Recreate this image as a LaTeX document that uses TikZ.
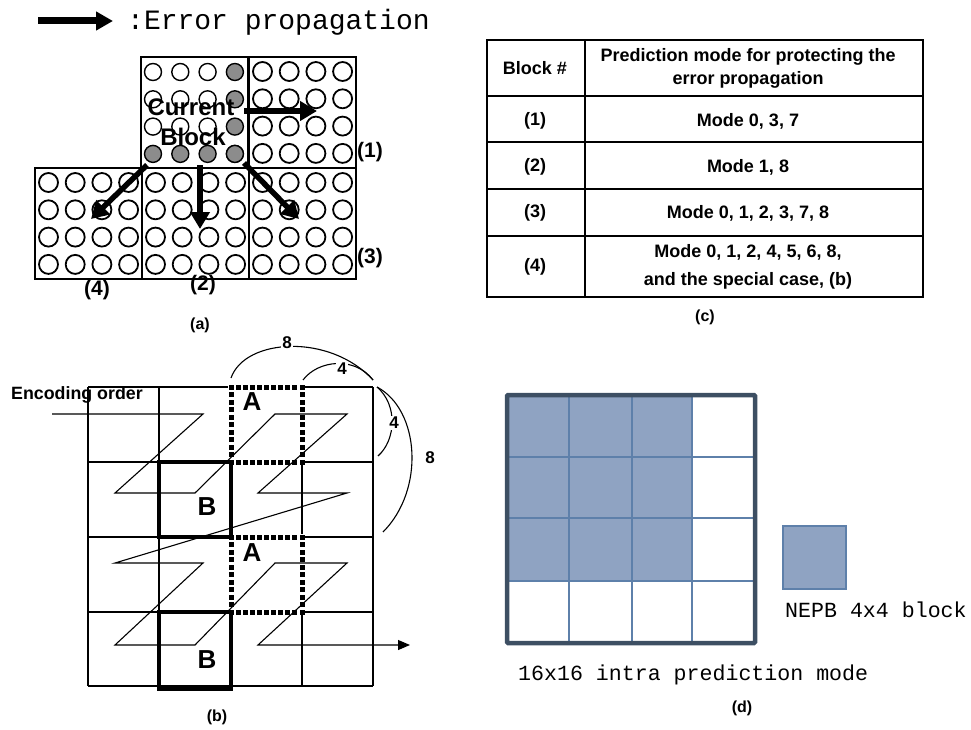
\documentclass[tikz,border=0pt]{standalone}
\usepackage{fontspec}
\setmainfont{Liberation Sans}
\setmonofont{Liberation Mono}
\usetikzlibrary{positioning, calc, arrows.meta}

\definecolor{nepbfill}{HTML}{8FA3C2}
\definecolor{nepbline}{HTML}{5E80AA}
\definecolor{mbborder}{HTML}{3D4F63}

\tikzset{
  pix/.style={draw, line width=1.8pt, fill=white},
  hotpix/.style={draw, line width=1.4pt, fill=black!45},
  errarrow/.style={line width=5.5pt, -{Triangle[length=17pt,width=19pt]}},
  blocklab/.style={font=\bfseries\fontsize{21}{24}\selectfont},
  subcap/.style={font=\bfseries\fontsize{16}{18}\selectfont},
  tabtext/.style={font=\bfseries\fontsize{18}{23}\selectfont, align=center},
  monotext/.style={font=\ttfamily\fontsize{21.6}{24}\selectfont, anchor=base west, inner sep=0pt},
  bbox/.style={line width=3.6pt},
  gridline/.style={line width=1.2pt},
  arclab/.style={font=\bfseries\fontsize{17}{19}\selectfont, fill=white, inner sep=1pt}
}

% heavy square dashes from (#1,#2) to (#3,#4), horizontal or vertical
\newcommand{\sqdash}[4]{%
  \fill[white] (#1-3,#2-3) rectangle (#3+3,#4+3);
  \foreach \t in {0,...,10}
    \fill ($(#1,#2)!\t/10!(#3,#4)$) ++(-2.5,-2.5) rectangle ++(5,5);
}

\begin{document}
\begin{tikzpicture}[x=1pt, y=-1pt, >=Stealth]
    \useasboundingbox (0,0) rectangle (971,730);

    % Legend
    \coordinate (legS) at (38,21);
    \coordinate (legE) at (113,21);
    \draw[line width=7pt, -{Triangle[length=17pt,width=18pt]}] (legS) -- (legE);
    \node[monotext, font=\ttfamily\fontsize{28}{30}\selectfont] (legtxt) at (127,30) {:Error propagation};

    % (a) Blocks
    \foreach \bx/\by in {141/57, 249/57, 35/168, 142/168, 249/168}
        \draw[line width=1.4pt] (\bx,\by) rectangle ++(107,111);

    % (a) Neighbour pixels
    \foreach \bx/\by in {249/57, 35/168, 142/168, 249/168}
        \foreach \i in {0,...,3}
            \foreach \j in {0,...,3}
                \draw[pix] (\bx+13.5+26.7*\i, \by+14.5+27.3*\j) circle (9.5pt);

    % (a) Current block pixels
    \foreach \i in {0,1,2}
        \foreach \j in {0,1,2}
            \draw[pix, line width=1.4pt] (153+27.3*\i, 72+27.3*\j) circle (8.5pt);
    \foreach \k in {0,...,3} {
        \draw[hotpix] (153+27.3*3, 72+27.3*\k) circle (8.5pt);
        \draw[hotpix] (153+27.3*\k, 72+27.3*3) circle (8.5pt);
    }
    \node[font=\bfseries\fontsize{24}{26}\selectfont] (curtxt) at (191,107) {Current};
    \node[font=\bfseries\fontsize{24}{26}\selectfont] (blktxt) at (193,137) {Block};

    % (a) Error propagation
    \coordinate (curE) at (244,111);
    \coordinate (oneT) at (317,111);
    \coordinate (curS) at (200,165);
    \coordinate (twoT) at (200,229);
    \coordinate (curSW) at (147,165);
    \coordinate (fourT) at (91,219);
    \coordinate (curSE) at (244,163);
    \coordinate (threeT) at (299,219);
    \draw[errarrow] (curE) -- (oneT);
    \draw[errarrow] (curS) -- (twoT);
    \draw[errarrow] (curSW) -- (fourT);
    \draw[errarrow] (curSE) -- (threeT);

    \node[blocklab, right, inner sep=1pt] (lab1) at (356,152) {(1)};
    \node[blocklab, right, inner sep=1pt] (lab3) at (356,258) {(3)};
    \node[blocklab] (lab4) at (97,290) {(4)};
    \node[blocklab] (lab2) at (203,285) {(2)};
    \node[subcap] (capa) at (200,325) {(a)};

    % (b) Grid
    \foreach \x in {88,159,231,302,373}
        \draw[gridline] (\x,387) -- (\x,686);
    \foreach \y in {387,462,537,612,686}
        \draw[gridline] (88,\y) -- (373,\y);
    \draw[line width=2pt] (302,462) -- (302,537);

    % (b) A and B blocks
    \foreach \ya/\yb in {387/462, 537/612} {
        \sqdash{231}{\ya}{302}{\ya}
        \sqdash{231}{\yb}{302}{\yb}
        \sqdash{231}{\ya}{231}{\yb}
        \sqdash{302}{\ya}{302}{\yb}
    }
    \draw[bbox] (159,462) rectangle (231,537);
    \draw[bbox] (159,612) rectangle (231,689);
    \node[font=\bfseries\fontsize{26}{28}\selectfont] (a1) at (252,402) {A};
    \node[font=\bfseries\fontsize{26}{28}\selectfont] (a2) at (252,553) {A};
    \node[font=\bfseries\fontsize{26}{28}\selectfont] (b1) at (207,507) {B};
    \node[font=\bfseries\fontsize{26}{28}\selectfont] (b2) at (207,660) {B};

    % (b) Encoding order
    \node[font=\bfseries\fontsize{17.8}{20}\selectfont, right, inner sep=0pt] (enc) at (11,395) {Encoding order};
    \draw[line width=1.1pt, -{Triangle[length=12pt,width=10pt]}]
        (52,414) -- (203,414) -- (115,493) -- (195,493) -- (275,414) -- (347,414)
        -- (258,493) -- (347,493) -- (115,563) -- (203,563) -- (115,645) -- (195,645)
        -- (275,563) -- (347,563) -- (258,645) -- (410,645);

    % (b) Distances
    \draw[line width=1.1pt] (231,378) .. controls (245,338) and (330,333) .. (373,380);
    \draw[line width=1.1pt] (303,380) .. controls (318,360) and (355,356) .. (373,380);
    \draw[line width=1.1pt] (377,387) .. controls (398,405) and (396,440) .. (378,456);
    \draw[line width=1.1pt] (377,387) .. controls (420,410) and (425,490) .. (383,532);
    \node[arclab] (d8a) at (287,343) {8};
    \node[arclab] (d4a) at (342,369) {4};
    \node[arclab] (d4b) at (394,423) {4};
    \node[font=\bfseries\fontsize{17}{19}\selectfont] (d8b) at (430,458) {8};
    \node[subcap] (capb) at (217,717) {(b)};

    % (c) Table
    \draw[line width=2.5pt] (487,40) rectangle (923,297);
    \draw[line width=1.2pt] (585,40) -- (585,297);
    \foreach \y in {96,142,189,236}
        \draw[line width=1.2pt] (487,\y) -- (923,\y);
    \node[tabtext] (hblk) at (535,68) {Block \#};
    \node[tabtext] (hmode) at (748,68) {Prediction mode for protecting the\\error propagation};
    \node[tabtext] (r1) at (535,121) {(1)};
    \node[tabtext] (m1) at (748,121) {Mode 0, 3, 7};
    \node[tabtext] (r2) at (535,167) {(2)};
    \node[tabtext] (m2) at (748,167) {Mode 1, 8};
    \node[tabtext] (r3) at (535,213) {(3)};
    \node[tabtext] (m3) at (748,213) {Mode 0, 1, 2, 3, 7, 8};
    \node[tabtext] (r4) at (535,267) {(4)};
    \node[tabtext, font=\bfseries\fontsize{18}{28}\selectfont] (m4) at (748,267) {Mode 0, 1, 2, 4, 5, 6, 8,\\and the special case, (b)};
    \node[subcap] (capc) at (705,317) {(c)};

    % (d) Macroblock
    \fill[nepbfill] (507,395) rectangle (692,581);
    \foreach \x in {569,632,692}
        \draw[nepbline, line width=2.2pt] (\x,395) -- (\x,643);
    \foreach \y in {457,518,581}
        \draw[nepbline, line width=2.2pt] (507,\y) -- (755,\y);
    \draw[mbborder, line width=4.5pt, rounded corners=1pt] (507,395) rectangle (755,643);
    \draw[nepbline, fill=nepbfill, line width=2pt] (783,526) rectangle (846,589);
    \node[monotext] (nepb) at (785,617) {NEPB 4x4 block};
    \node[monotext] (mbtxt) at (518,680) {16x16 intra prediction mode};
    \node[subcap] (capd) at (742,708) {(d)};
\end{tikzpicture}
\end{document}
